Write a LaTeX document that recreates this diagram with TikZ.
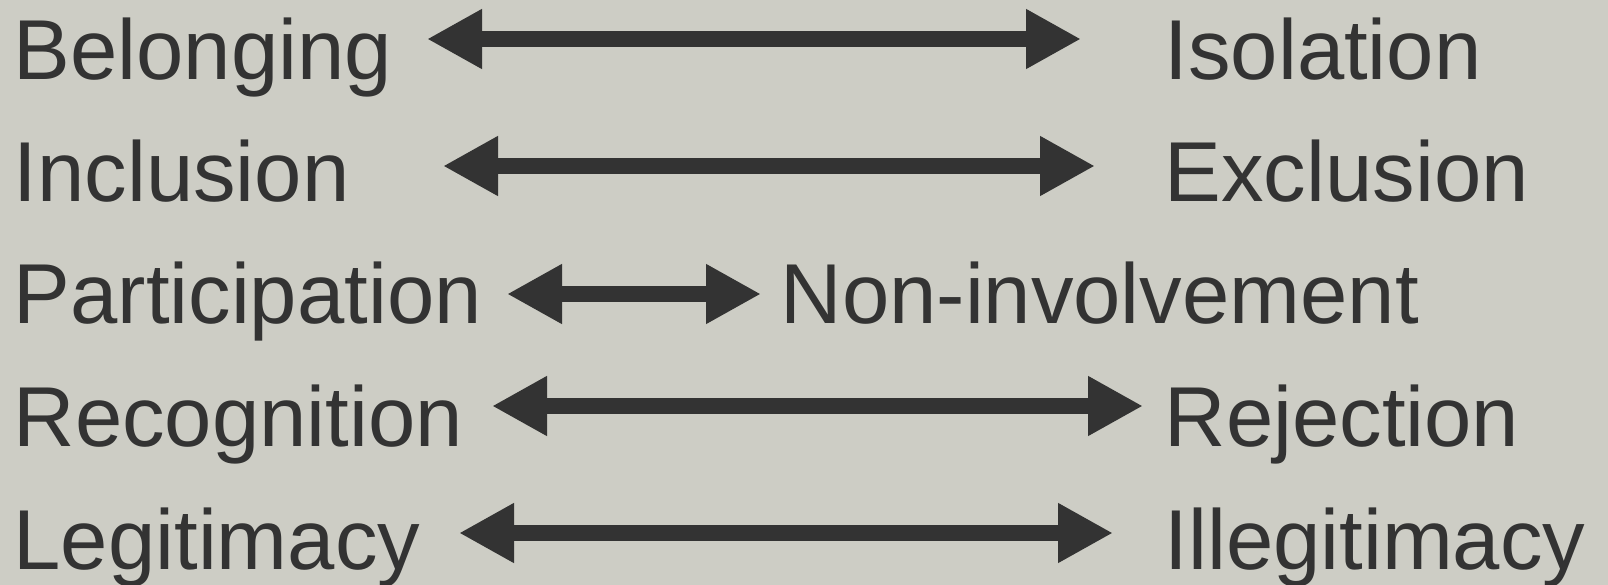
\documentclass[tikz,border=0pt]{standalone}
\usepackage{fontspec}
\setmainfont{Liberation Sans}
\usepackage{xcolor}
\usetikzlibrary{arrows.meta}

\definecolor{paper}{HTML}{CDCDC5}
\definecolor{ink}{HTML}{333333}

\tikzset{
  term/.style={anchor=base west, inner sep=0pt, text=ink, font=\fontsize{24.2}{29}\selectfont},
  pole/.style={draw=ink, line width=1.65mm, {Triangle[length=5.5mm,width=5.6mm]}-{Triangle[length=5.5mm,width=5.6mm]}}
}

\begin{document}
\begin{tikzpicture}[x=0.1mm,y=-0.1mm]

\fill[paper] (0,0) rectangle (1608,585);
\useasboundingbox (0,0) rectangle (1608,585);

% left terms
\node[term] (belong) at (13,79) {Belonging};
\node[term] (incl) at (13,201) {Inclusion};
\node[term] (partic) at (13,323) {Participation};
\node[term] (recog) at (13,446) {Recognition};
\node[term] (legit) at (13,569) {Legitimacy};

% right terms
\node[term] (isol) at (1164,79) {Isolation};
\node[term] (excl) at (1164,201) {Exclusion};
\node[term] (noninv) at (780,323) {Non-involvement};
\node[term] (reject) at (1164,446) {Rejection};
\node[term] (illegit) at (1164,569) {Illegitimacy};

% arrow ends
\coordinate (belongA) at (427,39);
\coordinate (isolA) at (1081,39);
\coordinate (inclA) at (443,166);
\coordinate (exclA) at (1095,166);
\coordinate (particA) at (507,294);
\coordinate (noninvA) at (761,294);
\coordinate (recogA) at (492,406);
\coordinate (rejectA) at (1143,406);
\coordinate (legitA) at (459,533);
\coordinate (illegitA) at (1113,533);

\draw[pole] (belongA) -- (isolA);
\draw[pole] (inclA) -- (exclA);
\draw[pole] (particA) -- (noninvA);
\draw[pole] (recogA) -- (rejectA);
\draw[pole] (legitA) -- (illegitA);

\end{tikzpicture}
\end{document}
